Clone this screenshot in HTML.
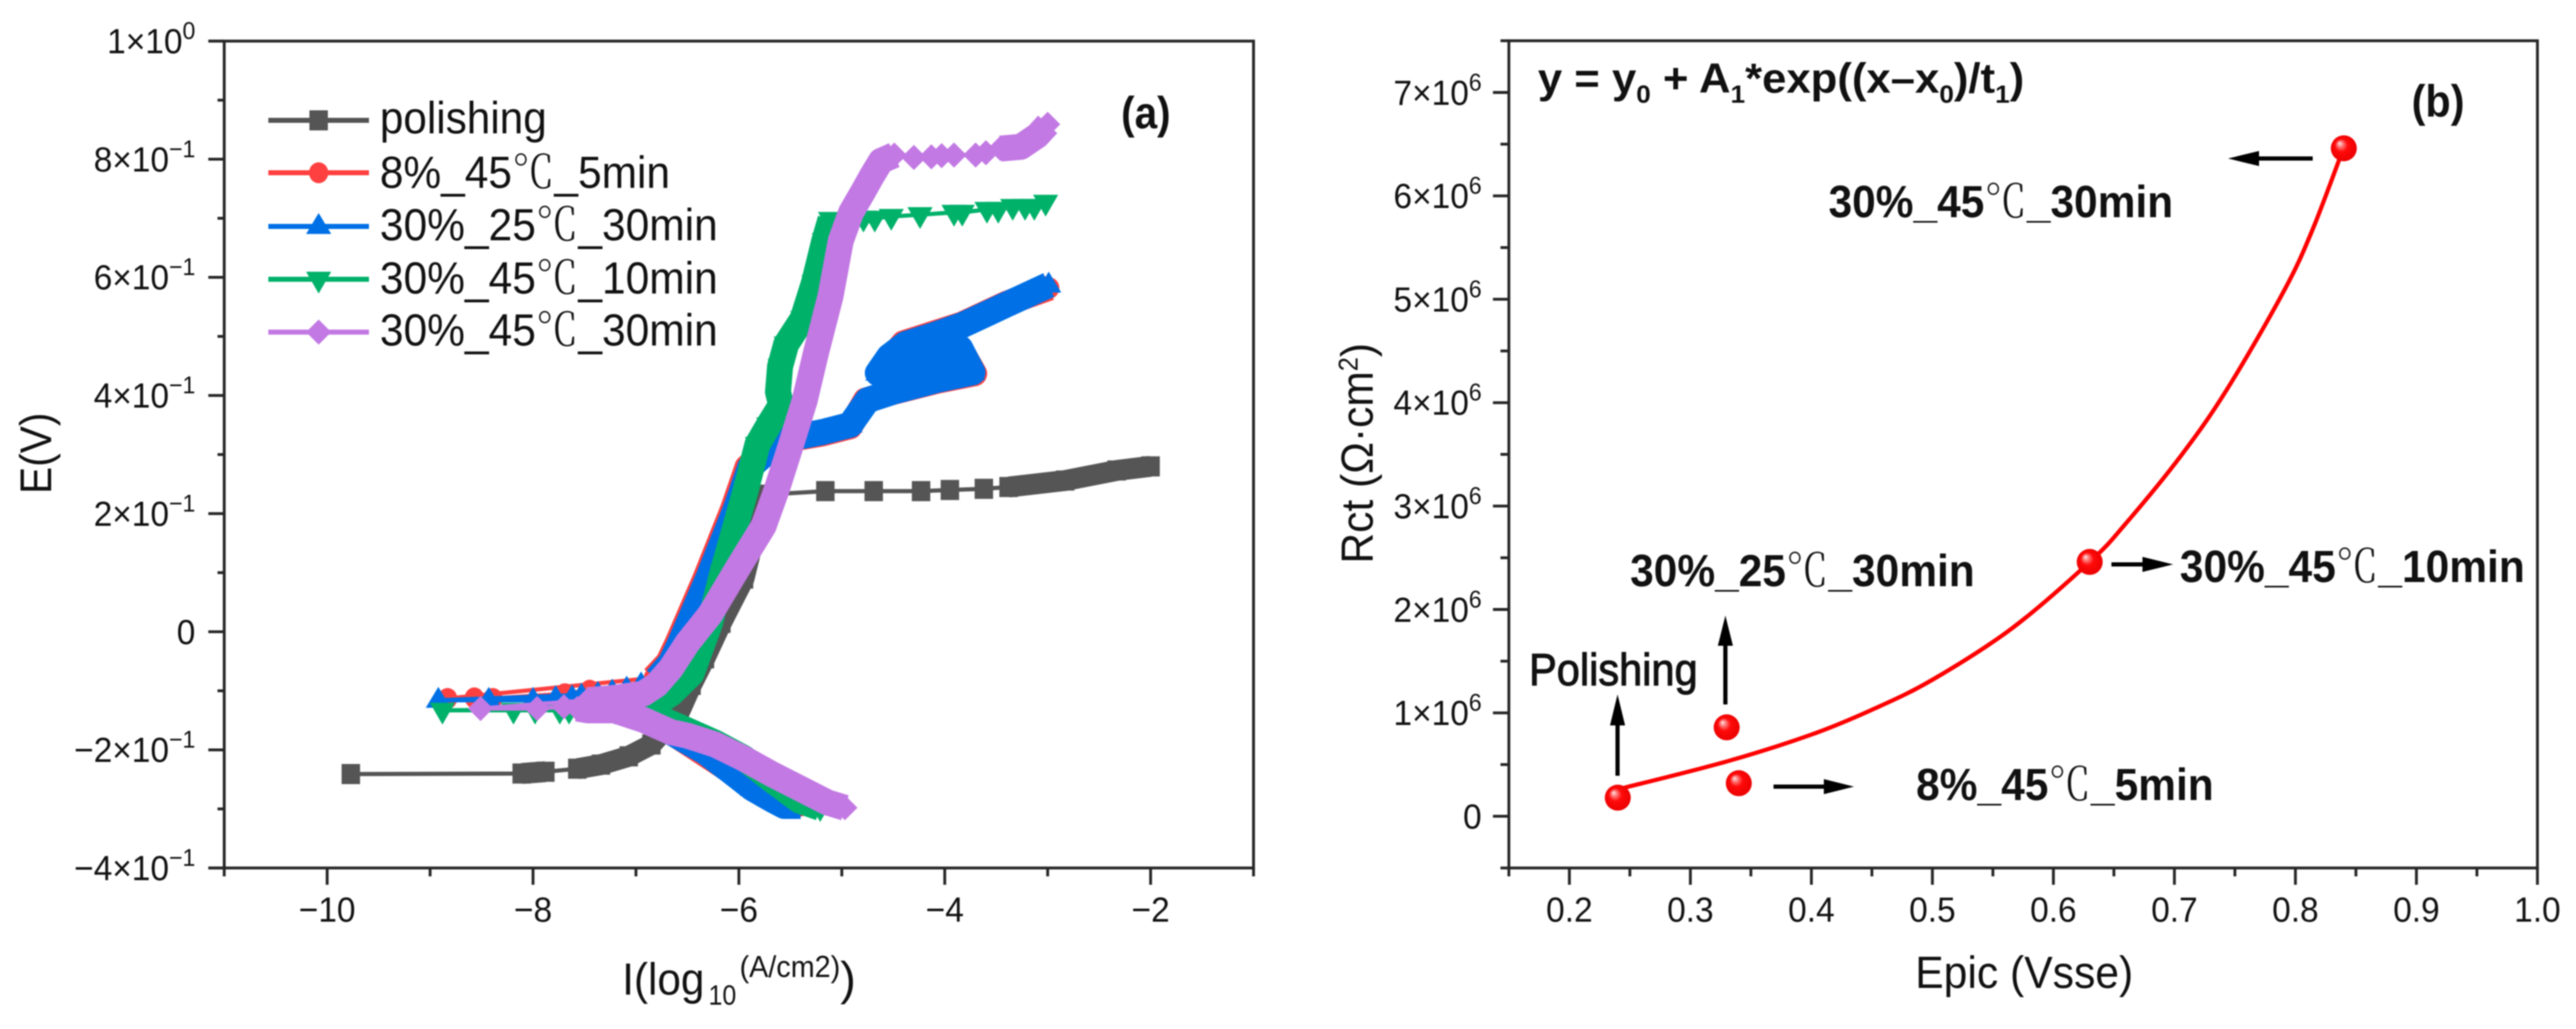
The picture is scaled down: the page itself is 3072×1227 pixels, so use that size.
<!DOCTYPE html>
<html lang="en">
<head>
<meta charset="utf-8">
<title>Polarization curves and Rct vs Epic</title>
<style>
html,body{margin:0;padding:0;background:#fff;}
svg{display:block;filter:blur(0.7px);}
text{font-family:"Liberation Sans","Noto Sans CJK SC",sans-serif;fill:#111;}
.t{font-size:42px;}
.b{font-weight:700;font-size:54px;}
.deg{font-family:"Noto Serif CJK SC","Liberation Serif",serif;font-weight:300;}
</style>
</head>
<body>
<svg id="chart" xmlns="http://www.w3.org/2000/svg" width="3072" height="1227" viewBox="0 0 3072 1227">
<defs>
<radialGradient id="sphere" cx="50%" cy="50%" r="55%" fx="33%" fy="30%">
<stop offset="0" stop-color="#ffe8e8"/>
<stop offset="0.22" stop-color="#ff7070"/>
<stop offset="0.45" stop-color="#ff0a0a"/>
<stop offset="1" stop-color="#e80000"/>
</radialGradient>
</defs>
<rect width="3072" height="1227" fill="#fff"/>
<g id="panelA"></g>
<g id="panelB"></g>

<g id="legend">
<text x="453" y="159" font-size="54" textLength="199" lengthAdjust="spacingAndGlyphs">polishing</text>
<text x="453" y="224" font-size="54" textLength="346" lengthAdjust="spacingAndGlyphs">8%_45<tspan class="deg">℃</tspan>_5min</text>
<text x="453" y="286.5" font-size="54" textLength="403" lengthAdjust="spacingAndGlyphs">30%_25<tspan class="deg">℃</tspan>_30min</text>
<text x="453" y="350" font-size="54" textLength="403" lengthAdjust="spacingAndGlyphs">30%_45<tspan class="deg">℃</tspan>_10min</text>
<text x="453" y="412" font-size="54" textLength="403" lengthAdjust="spacingAndGlyphs">30%_45<tspan class="deg">℃</tspan>_30min</text>
</g>

<text x="1337" y="153" class="b" style="font-size:54px" textLength="59" lengthAdjust="spacingAndGlyphs">(a)</text>
<text x="2876" y="139" class="b" style="font-size:54px" textLength="63" lengthAdjust="spacingAndGlyphs">(b)</text>

<text transform="translate(61,589) rotate(-90)" font-size="53" textLength="97" lengthAdjust="spacingAndGlyphs">E(V)</text>
<g>
<text x="742" y="1186" font-size="54" textLength="98" lengthAdjust="spacingAndGlyphs">I(log</text>
<text x="845" y="1198" font-size="33" textLength="33" lengthAdjust="spacingAndGlyphs">10</text>
<text x="882" y="1165" font-size="36" textLength="120" lengthAdjust="spacingAndGlyphs">(A/cm2)</text>
<text x="1002" y="1186" font-size="56">)</text>
</g>

<text x="2284" y="1178" font-size="54" textLength="260" lengthAdjust="spacingAndGlyphs">Epic (Vsse)</text>
<text transform="translate(1637,672) rotate(-90)" font-size="54" textLength="263" lengthAdjust="spacingAndGlyphs">Rct (Ω·cm<tspan dy="-18" font-size="32">2</tspan><tspan dy="18">)</tspan></text>

<text x="1834" y="110.7" class="b" style="font-size:50px" textLength="580" lengthAdjust="spacingAndGlyphs">y = y<tspan dy="12" font-size="30">0</tspan><tspan dy="-12"> + A</tspan><tspan dy="12" font-size="30">1</tspan><tspan dy="-12">*exp((x–x</tspan><tspan dy="12" font-size="30">0</tspan><tspan dy="-12">)/t</tspan><tspan dy="12" font-size="30">1</tspan><tspan dy="-12">)</tspan></text>

<text x="2180.6" y="259" class="b" textLength="411" lengthAdjust="spacingAndGlyphs">30%_45<tspan class="deg">℃</tspan>_30min</text>
<text x="1944" y="699" class="b" textLength="411" lengthAdjust="spacingAndGlyphs">30%_25<tspan class="deg">℃</tspan>_30min</text>
<text x="2599.5" y="694" class="b" textLength="411.5" lengthAdjust="spacingAndGlyphs">30%_45<tspan class="deg">℃</tspan>_10min</text>
<text x="2285" y="954" class="b" textLength="355" lengthAdjust="spacingAndGlyphs">8%_45<tspan class="deg">℃</tspan>_5min</text>
<text x="1823.5" y="817" font-size="54" stroke="#111" stroke-width="1.2" textLength="201" lengthAdjust="spacingAndGlyphs">Polishing</text>

<g><path d="M1929 925V860" stroke="#000" stroke-width="5"/><path d="M1929 828L1938 865H1920Z" fill="#000"/></g>
<g><path d="M2057.6 840V765" stroke="#000" stroke-width="5"/><path d="M2057.6 734L2066.6 770H2048.6Z" fill="#000"/></g>
<g><path d="M2115 938H2180" stroke="#000" stroke-width="5"/><path d="M2211 938L2175 929V947Z" fill="#000"/></g>
<g><path d="M2518 673H2560" stroke="#000" stroke-width="5"/><path d="M2591.6 673L2555 664V682Z" fill="#000"/></g>
<g><path d="M2758 189H2690" stroke="#000" stroke-width="5"/><path d="M2657 189L2694 180V198Z" fill="#000"/></g>
</svg>

<script>
// ---------- Panel (a) axis data ----------
const aXMajor = [-10, -8, -6, -4, -2];
const aXMajorLabels = ['−10', '−8', '−6', '−4', '−2'];
const aXMinor = [-11, -9, -7, -5, -3, -1];
const aYMajor = [1, 0.8, 0.6, 0.4, 0.2, 0, -0.2, -0.4];
const aYMajorLabels = ['1×10|0', '8×10|−1', '6×10|−1', '4×10|−1', '2×10|−1', '0', '−2×10|−1', '−4×10|−1'];
const aYMinor = [0.9, 0.7, 0.5, 0.3, 0.1, -0.1, -0.3];

// ---------- Panel (a) series data (log10 current, potential) ----------
const polishingI = [-9.77,-8.11,-7.88,-7.57,-7.34,-7.07,-6.85,-6.72,-6.58,-6.46,-6.33,-6.17,-5.95,-5.85,-5.75,-5.16,-4.69,-4.23,-3.95,-3.62,-3.38,-2.83,-2.33,-2.00];
const polishingE = [-.241,-.240,-.237,-.232,-.225,-.211,-.191,-.166,-.137,-.090,-.045,.015,.090,.161,.232,.238,.238,.238,.240,.242,.245,.256,.273,.280];
const polishingDenseRuns = [[1,2],[3,14],[20,23]];

const redI = [-5.40,-6.09,-6.66,-7.45,-7.69,-8.39,-8.57,-8.83,-6.83,-6.69,-6.60,-6.33,-6.06,-5.92,-5.62,-5.19,-4.92,-4.77,-4.51,-4.08,-3.71,-3.85,-4.65,-4.40,-3.83,-3.40,-2.98];
const redE = [-.295,-.235,-.170,-.099,-.105,-.113,-.112,-.113,-.078,-.052,-.019,.090,.208,.279,.322,.335,.347,.392,.405,.424,.437,.480,.438,.489,.521,.556,.582];
const redDenseRuns = [[0,2],[8,26]];

const blueI = [-5.40,-5.56,-5.68,-5.87,-6.09,-6.33,-6.66,-6.93,-7.53,-7.62,-7.78,-8.00,-8.43,-8.92,-7.37,-7.23,-7.09,-6.95,-6.80,-6.66,-6.57,-6.30,-6.03,-5.89,-5.60,-5.19,-4.92,-4.75,-4.49,-4.08,-3.73,-3.85,-4.11,-4.65,-4.54,-4.38,-4.11,-3.83,-3.62,-3.40,-2.99];
const blueE = [-.295,-.295,-.284,-.265,-.235,-.203,-.170,-.147,-.109,-.112,-.113,-.116,-.116,-.116,-.106,-.102,-.097,-.090,-.080,-.052,-.019,.090,.208,.279,.324,.338,.350,.392,.407,.426,.439,.480,.466,.438,.466,.487,.502,.519,.536,.554,.587];
const blueDenseRuns = [[0,7],[18,40]];

const greenI = [-5.21,-5.41,-5.68,-5.95,-6.23,-6.50,-6.74,-7.01,-7.21,-7.65,-7.74,-7.98,-8.19,-8.88,-6.88,-6.66,-6.46,-6.28,-6.16,-5.93,-5.82,-5.71,-5.59,-5.62,-5.60,-5.54,-5.38,-5.27,-5.17,-5.11,-4.79,-4.68,-4.52,-4.24,-3.91,-3.83,-3.59,-3.48,-3.34,-3.22,-3.13,-3.02];
const greenE = [-.298,-.286,-.251,-.214,-.188,-.167,-.149,-.142,-.133,-.133,-.133,-.133,-.133,-.133,-.130,-.105,-.071,.015,.100,.242,.317,.350,.384,.406,.449,.487,.530,.591,.662,.698,.700,.700,.703,.706,.710,.710,.715,.715,.720,.720,.720,.727];
const greenDenseRuns = [[0,7],[14,29]];

const purpleI = [-4.97,-5.14,-5.41,-5.68,-5.95,-6.23,-6.50,-6.66,-6.93,-7.21,-7.34,-7.47,-7.57,-7.70,-7.96,-8.51,-7.47,-7.21,-6.93,-6.80,-6.66,-6.50,-6.28,-6.01,-5.76,-5.63,-5.50,-5.36,-5.25,-5.11,-5.01,-4.91,-4.80,-4.71,-4.62,-4.49,-4.30,-4.13,-4.03,-3.91,-3.70,-3.60,-3.46,-3.26,-3.10,-3.00];
const purpleE = [-.298,-.289,-.265,-.241,-.215,-.191,-.176,-.170,-.149,-.133,-.133,-.133,-.130,-.127,-.130,-.130,-.116,-.112,-.105,-.090,-.062,-.019,.029,.108,.179,.242,.313,.392,.473,.568,.662,.710,.743,.771,.797,.807,.803,.804,.806,.807,.807,.811,.818,.821,.840,.859];
const purpleDenseRuns = [[0,12],[16,35],[42,45]];

const seriesNames = ['polishing','8pct-45c-5min','30pct-25c-30min','30pct-45c-10min','30pct-45c-30min'];

// ---------- Panel (b) data ----------
const bXMajor = [0.2,0.3,0.4,0.5,0.6,0.7,0.8,0.9,1.0];
const bXMajorLabels = ['0.2','0.3','0.4','0.5','0.6','0.7','0.8','0.9','1.0'];
const bXMinor = [0.15,0.25,0.35,0.45,0.55,0.65,0.75,0.85,0.95];
const bYMajor = [7,6,5,4,3,2,1,0];
const bYMajorLabels = ['7×10|6','6×10|6','5×10|6','4×10|6','3×10|6','2×10|6','1×10|6','0'];
const bYMinor = [7.5,6.5,5.5,4.5,3.5,2.5,1.5,0.5,-0.5];
const epicValues = [0.24,0.33,0.34,0.63,0.84];
const rctValues = [0.18,0.86,0.32,2.46,6.46];
const pointNames = ['polishing','30pct-25c-30min','8pct-45c-5min','30pct-45c-10min','30pct-45c-30min'];
const fitEpic = [0.24,0.33,0.40,0.45,0.50,0.566,0.63,0.659,0.705,0.743,0.7905,0.8144,0.84];
const fitRct = [0.26,0.53,0.79,1.03,1.32,1.82,2.46,2.82,3.48,4.12,5.08,5.68,6.47];

// ---------- Scales ----------
function linear(d0,d1,r0,r1){ return v => r0 + (v-d0)*(r1-r0)/(d1-d0); }
const xA = linear(-11,-1,267.4,1494.9);
const yA = linear(-0.4,1,1035,49);
const xB = linear(0.15,1,1799.4,3026);
const yB = linear(-0.5,7.5,1035,48.6);

const NS = 'http://www.w3.org/2000/svg';
function el(tag, attrs, parent){
  const e = document.createElementNS(NS, tag);
  for(const k in attrs) e.setAttribute(k, attrs[k]);
  parent.appendChild(e);
  return e;
}
const AXIS = '#262626';
const LABEL_SQUEEZE = 0.95;

function squeeze(t){
  const w = t.getComputedTextLength();
  t.setAttribute('textLength', (w*LABEL_SQUEEZE).toFixed(1));
  t.setAttribute('lengthAdjust', 'spacingAndGlyphs');
}

function sciLabel(parent, x, y, label){
  const t = el('text', {x:x, y:y, 'text-anchor':'end', class:'t'}, parent);
  
  
  const parts = label.split('|');
  const base = el('tspan', {}, t);
  base.textContent = parts[0];
  if(parts[1]){
    const sup = el('tspan', {dy:-17, 'font-size':29}, t);
    sup.textContent = parts[1];
  }
  squeeze(t);
}

function drawAxes(parent, cfg){
  const {x, y, xMajor, xLabels, xMinor, yMajor, yLabels, yMinor, xLim, yLim, yLabelX, tickLong, tickShort, yTickLong, yTickShort} = cfg;
  const frame = el('rect', {x:x(xLim[0]), y:y(yLim[1]), width:x(xLim[1])-x(xLim[0]), height:y(yLim[0])-y(yLim[1]), fill:'none', stroke:AXIS, 'stroke-width':3.4}, parent);
  
  
  xMajor.forEach((v,i)=>{
    const l = el('line', {x1:x(v), x2:x(v), y1:y(yLim[0]), y2:y(yLim[0])+tickLong, stroke:AXIS, 'stroke-width':3.4}, parent);
    
    
    const t = el('text', {x:x(v), y:1099, 'text-anchor':'middle', class:'t'}, parent);
    
    
    t.textContent = xLabels[i];
    squeeze(t);
  });
  xMinor.forEach(v=>{
    const l = el('line', {x1:x(v), x2:x(v), y1:y(yLim[0]), y2:y(yLim[0])+tickShort, stroke:AXIS, 'stroke-width':3.4}, parent);
    
    
  });
  yMajor.forEach((v,i)=>{
    const l = el('line', {x1:x(xLim[0])-yTickLong, x2:x(xLim[0]), y1:y(v), y2:y(v), stroke:AXIS, 'stroke-width':3.4}, parent);
    
    
    sciLabel(parent, yLabelX, y(v)+14.5, yLabels[i]);
  });
  yMinor.forEach(v=>{
    const l = el('line', {x1:x(xLim[0])-yTickShort, x2:x(xLim[0]), y1:y(v), y2:y(v), stroke:AXIS, 'stroke-width':3.4}, parent);
    
    
  });
}

function markerPath(kind){
  if(kind==='square') return 'M-11 -12H11V12H-11Z';
  if(kind==='circle') return 'M-11.5 0A11.5 12.5 0 1 1 11.5 0A11.5 12.5 0 1 1 -11.5 0Z';
  if(kind==='up') return 'M0 -16L15 9H-15Z';
  if(kind==='down') return 'M0 17L15 -9H-15Z';
  return 'M0 -15L15 0L0 15L-15 0Z';
}

function drawSeries(parent, name, I, E, runs, color, kind, bandWidth){
  const g = el('g', {}, parent);
  
  
  const pts = I.map((v,i)=>[xA(v), yA(E[i])]);
  const line = el('polyline', {points:pts.map(p=>p.join(',')).join(' '), fill:'none', stroke:color, 'stroke-width':5, 'stroke-linejoin':'round'}, g);
  
  
  runs.forEach(r=>{
    const seg = pts.slice(r[0], r[1]+1);
    const band = el('polyline', {points:seg.map(p=>p.join(',')).join(' '), fill:'none', stroke:color, 'stroke-width':bandWidth, 'stroke-linejoin':'round'}, g);
    
    
  });
  pts.forEach(p=>{
    const m = el('path', {d:markerPath(kind), transform:'translate('+p[0]+','+p[1]+')', fill:color}, g);
    
    
  });
}

// ---------- Panel (a) ----------
const panelA = document.getElementById('panelA');
drawAxes(panelA, {x:xA, y:yA, xMajor:aXMajor, xLabels:aXMajorLabels, xMinor:aXMinor, yMajor:aYMajor, yLabels:aYMajorLabels, yMinor:aYMinor, xLim:[-11,-1], yLim:[-0.4,1], yLabelX:233, tickLong:20, tickShort:10, yTickLong:19, yTickShort:8});

const seriesColors = ['#555555','#ff4040','#0070e6','#00b16a','#c279e3'];
const seriesKinds = ['square','circle','up','down','diamond'];
drawSeries(panelA, seriesNames[0], polishingI, polishingE, polishingDenseRuns, seriesColors[0], seriesKinds[0], 25);
drawSeries(panelA, seriesNames[1], redI, redE, redDenseRuns, seriesColors[1], seriesKinds[1], 30);
drawSeries(panelA, seriesNames[2], blueI, blueE, blueDenseRuns, seriesColors[2], seriesKinds[2], 31);
drawSeries(panelA, seriesNames[3], greenI, greenE, greenDenseRuns, seriesColors[3], seriesKinds[3], 31);
drawSeries(panelA, seriesNames[4], purpleI, purpleE, purpleDenseRuns, seriesColors[4], seriesKinds[4], 31);

// legend swatches
const legendGroup = document.getElementById('legend');
const legendRowY = [143.5, 206, 270, 333, 396];
seriesNames.forEach((n,i)=>{
  const l = el('line', {x1:320, x2:440, y1:legendRowY[i], y2:legendRowY[i], stroke:seriesColors[i], 'stroke-width':6}, legendGroup);
  
  
  const m = el('path', {d:markerPath(seriesKinds[i]), transform:'translate(380,'+legendRowY[i]+')', fill:seriesColors[i]}, legendGroup);
  
  
});

// ---------- Panel (b) ----------
const panelB = document.getElementById('panelB');
drawAxes(panelB, {x:xB, y:yB, xMajor:bXMajor, xLabels:bXMajorLabels, xMinor:bXMinor, yMajor:bYMajor, yLabels:bYMajorLabels, yMinor:bYMinor, xLim:[0.15,1], yLim:[-0.5,7.5], yLabelX:1767, tickLong:20, tickShort:10, yTickLong:19, yTickShort:10});

const fitPts = fitEpic.map((v,i)=>[xB(v), yB(fitRct[i])]);
let fitD = 'M' + fitPts[0].join(' ');
for(let i=0;i<fitPts.length-1;i++){
  const p0 = fitPts[Math.max(0,i-1)], p1 = fitPts[i], p2 = fitPts[i+1], p3 = fitPts[Math.min(fitPts.length-1,i+2)];
  const c1 = [p1[0]+(p2[0]-p0[0])/6, p1[1]+(p2[1]-p0[1])/6];
  const c2 = [p2[0]-(p3[0]-p1[0])/6, p2[1]-(p3[1]-p1[1])/6];
  fitD += 'C' + c1.join(' ') + ' ' + c2.join(' ') + ' ' + p2.join(' ');
}
const fitLine = el('path', {d:fitD, fill:'none', stroke:'#ff0000', 'stroke-width':5}, panelB);



epicValues.forEach((v,i)=>{
  const c = el('circle', {cx:xB(v), cy:yB(rctValues[i]), r:15.5, fill:'url(#sphere)'}, panelB);
  
  
});
</script>
</body>
</html>
